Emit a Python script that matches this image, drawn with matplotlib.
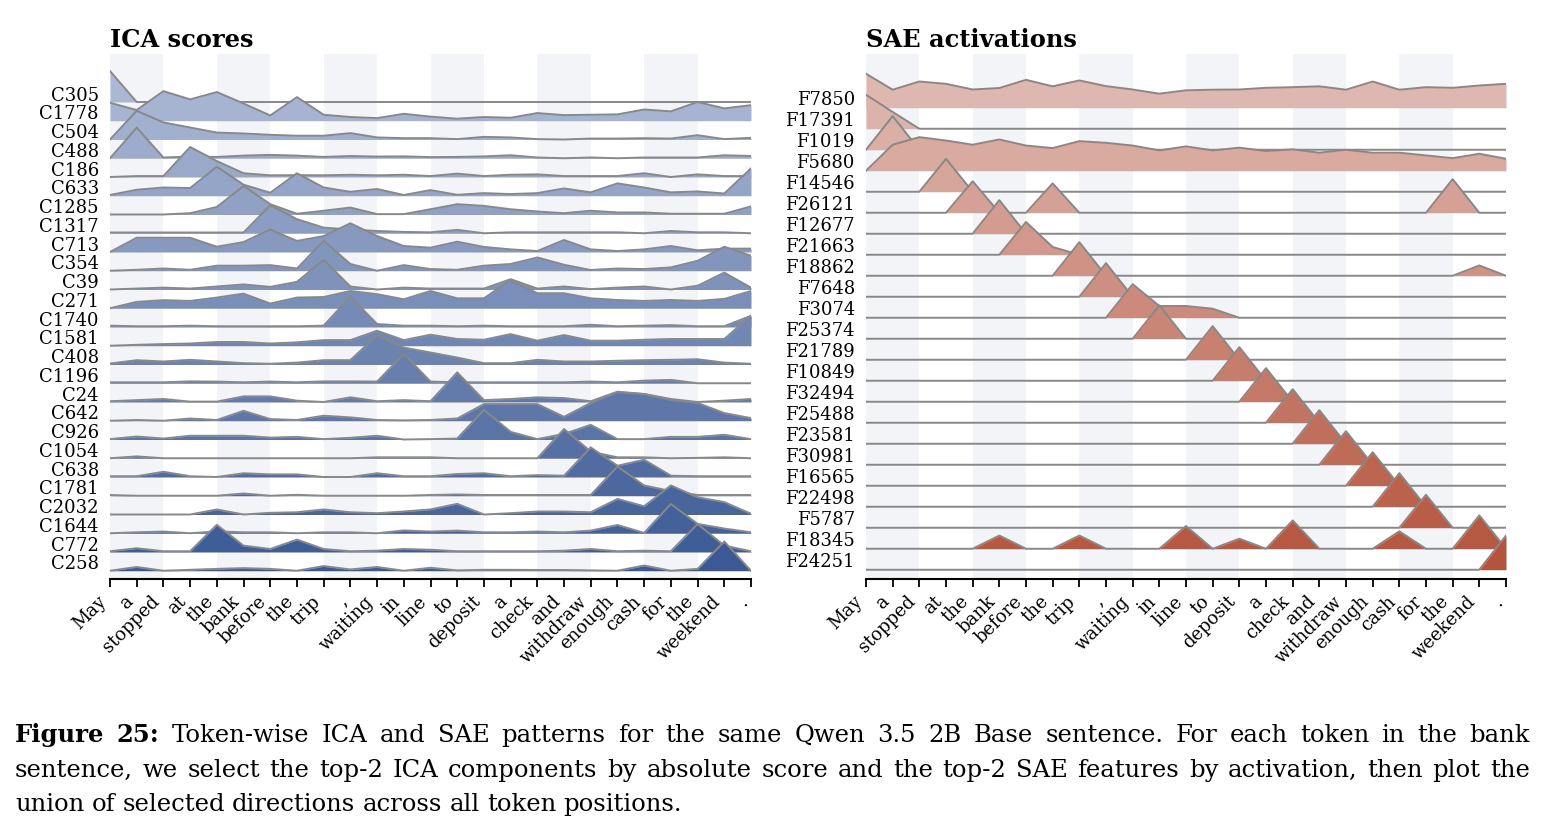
import matplotlib
matplotlib.use('Agg')
import matplotlib.pyplot as plt
import numpy as np

TOKENS = ['May', 'a', 'stopped', 'at', 'the', 'bank', 'before', 'the', 'trip', ',',
          'waiting', 'in', 'line', 'to', 'deposit', 'a', 'check', 'and', 'withdraw',
          'enough', 'cash', 'for', 'the', 'weekend', '.']

ICA_LABELS = ['C305', 'C1778', 'C504', 'C488', 'C186', 'C633', 'C1285', 'C1317', 'C713',
              'C354', 'C39', 'C271', 'C1740', 'C1581', 'C408', 'C1196', 'C24', 'C642',
              'C926', 'C1054', 'C638', 'C1781', 'C2032', 'C1644', 'C772', 'C258']

# heights in units of row spacing, one value per token
ICA_SCORES = [
    [1.65, 0, 0, 0, 0, 0, 0, 0, 0, 0, 0, 0, 0, 0, 0, 0, 0, 0, 0, 0, 0, 0, 0, 0, 0],
    [0.96, 0.57, 1.58, 1.14, 1.53, 0.92, 0.28, 1.26, 0.32, 0.2, 0.14, 0.37, 0.22, 0.11, 0.2, 0.16, 0.41, 0.3, 0.32, 0.34, 0.6, 0.5, 1.0, 0.66, 0.83],
    [0, 1.53, 0.91, 0.64, 0.37, 0.32, 0.25, 0.2, 0.2, 0.34, 0.11, 0.07, 0.07, 0.02, 0.14, 0.11, 0.02, 0, 0.05, 0.05, 0.07, 0.05, 0.23, 0.02, 0.09],
    [0, 1.63, 0.04, 0.09, 0.07, 0.14, 0.18, 0.14, 0.07, 0.12, 0.09, 0.1, 0.06, 0.07, 0.1, 0.16, 0.04, 0, 0.04, 0, 0.04, 0.04, 0.04, 0.16, 0.12],
    [0, 0.05, 0.05, 1.6, 0.85, 0.2, 0.09, 0.1, 0.09, 0.12, 0.09, 0.12, 0.05, 0.18, 0.05, 0.12, 0.14, 0.05, 0.05, 0.05, 0.2, 0, 0.14, 0.05, 0.05],
    [0.04, 0.32, 0.44, 0.41, 1.55, 0.59, 0.16, 1.2, 0.44, 0.21, 0.36, 0.04, 0.3, 0.05, 0.14, 0.09, 0.14, 0.39, 0.18, 0.66, 0.44, 0.18, 0.23, 0.12, 1.46],
    [0, 0, 0, 0.07, 0.4, 1.52, 0.55, 0.04, 0.2, 0.37, 0.02, 0.02, 0.28, 0.55, 0.46, 0.28, 0.16, 0.07, 0.2, 0.11, 0.11, 0.04, 0.04, 0.04, 0.43],
    [0.04, 0.04, 0.04, 0.04, 0.04, 0.04, 1.49, 0.75, 0.3, 0.2, 0.12, 0.07, 0.05, 0.18, 0, 0.05, 0.05, 0.05, 0.05, 0.05, 0, 0.12, 0.05, 0.05, 0],
    [0, 0.76, 0.76, 0.76, 0.28, 0.53, 1.2, 0.59, 0.85, 1.53, 0.85, 0.32, 0.23, 0.55, 0.27, 0.14, 0.05, 0.64, 0.14, 0.05, 0.14, 0.32, 0.09, 0.18, 0.18],
    [0, 0.05, 0.12, 0.05, 0.27, 0.27, 0.3, 0.12, 1.6, 0.36, 0, 0.3, 0.09, 0.05, 0.27, 0.36, 0.71, 0.32, 0.04, 0.12, 0.09, 0.18, 0.53, 1.28, 0.8],
    [0, 0.05, 0.1, 0.05, 0.16, 0.27, 0.14, 0.41, 1.58, 0.16, 0, 0.1, 0.05, 0.05, 0.05, 0.55, 0.05, 0.16, 0.02, 0.1, 0.16, 0, 0.2, 0.9, 0.1],
    [0, 0.34, 0.43, 0.39, 0.57, 0.78, 0.25, 0.57, 0.6, 0.92, 0.75, 0.48, 0.92, 0.53, 0.53, 1.5, 0.8, 0.8, 0.53, 0.44, 0.39, 0.44, 0.39, 0.5, 0.92],
    [0.07, 0.04, 0.04, 0.07, 0.04, 0.04, 0.04, 0.04, 0.07, 1.62, 0.16, 0.07, 0.07, 0.04, 0.07, 0.04, 0.04, 0.04, 0.12, 0.04, 0.07, 0.1, 0.04, 0.04, 0.6],
    [0, 0.05, 0.09, 0.12, 0.2, 0.2, 0.12, 0.18, 0.3, 0.3, 0.8, 0.3, 0.59, 0.36, 0.32, 0.62, 0.27, 0.57, 0.27, 0.27, 0.32, 0.36, 0.36, 0.36, 1.6],
    [0.05, 0.23, 0.16, 0.25, 0.16, 0.07, 0.04, 0.1, 0.23, 0.23, 1.56, 0.9, 0.64, 0.37, 0.07, 0.07, 0.25, 0.16, 0.16, 0.2, 0.23, 0.25, 0.28, 0.1, 0.04],
    [0.05, 0.05, 0.05, 0.1, 0.09, 0.05, 0.09, 0.05, 0.1, 0.1, 0.09, 1.56, 0.09, 0.05, 0.05, 0.05, 0.05, 0.05, 0.09, 0.05, 0.14, 0.18, 0, 0, 0],
    [0.04, 0.1, 0.16, 0.02, 0.02, 0.3, 0.3, 0.07, 0, 0.25, 0.04, 0.1, 0.04, 1.58, 0.1, 0.16, 0.25, 0.21, 0.04, 0.55, 0.43, 0.16, 0, 0.07, 0.16],
    [0, 0.04, 0, 0.12, 0.04, 0.53, 0.09, 0.04, 0.27, 0.18, 0.04, 0.02, 0.04, 0.12, 0.89, 0.89, 0.89, 0.21, 0.95, 1.52, 1.42, 1.1, 0.95, 0.41, 0.14],
    [0.02, 0.16, 0.05, 0.2, 0.2, 0.2, 0.1, 0.14, 0.02, 0.09, 0.2, 0, 0.02, 0.05, 1.58, 0.41, 0.02, 0.3, 0.78, 0.02, 0.02, 0.14, 0.14, 0.25, 0.02],
    [0, 0.1, 0, 0, 0, 0, 0, 0, 0, 0, 0.05, 0.05, 0.05, 0, 0, 0, 0, 1.56, 0.35, 0.05, 0.05, 0, 0.02, 0.05, 0],
    [0.04, 0.04, 0.28, 0.04, 0, 0.2, 0.14, 0.14, 0, 0, 0.2, 0.04, 0.04, 0.16, 0.2, 0.04, 0.1, 0.07, 1.58, 0.6, 0.92, 0.07, 0.04, 0.04, 0.04],
    [0.04, 0, 0, 0, 0, 0.12, 0, 0.05, 0, 0, 0, 0, 0.04, 0.07, 0.04, 0.04, 0.04, 0.04, 0.04, 1.56, 0.55, 0.25, 0.04, 0.04, 0.04],
    [0, 0, 0, 0, 0.27, 0, 0.09, 0.12, 0.27, 0.12, 0.07, 0.16, 0.27, 0.57, 0, 0.07, 0.16, 0.16, 0.12, 0.83, 0.44, 1.55, 0.92, 0.66, 0.04],
    [0, 0.05, 0.09, 0, 0.1, 0.05, 0.05, 0, 0.05, 0.05, 0, 0.15, 0.09, 0.14, 0.05, 0.05, 0.09, 0.05, 0.14, 0.44, 0.02, 1.56, 0.5, 0.25, 0.05],
    [0.04, 0.2, 0.04, 0.04, 1.45, 0.34, 0.16, 0.66, 0.16, 0.04, 0.07, 0.16, 0.12, 0.04, 0.04, 0.04, 0.04, 0.07, 0.16, 0.04, 0.07, 0.04, 1.49, 0.34, 0.04],
    [0, 0.2, 0, 0.05, 0.1, 0.14, 0.1, 0, 0.25, 0.07, 0.2, 0, 0.16, 0.02, 0.05, 0.05, 0.04, 0.04, 0.02, 0, 0.28, 0, 0.1, 1.56, 0],
]

SAE_LABELS = ['F7850', 'F17391', 'F1019', 'F5680', 'F14546', 'F26121', 'F12677', 'F21663',
              'F18862', 'F7648', 'F3074', 'F25374', 'F21789', 'F10849', 'F32494', 'F25488',
              'F23581', 'F30981', 'F16565', 'F22498', 'F5787', 'F18345', 'F24251']

SAE_ACTS = [
    [1.62, 0.86, 1.25, 1.14, 0.87, 0.94, 1.33, 1.02, 1.3, 1.03, 0.87, 0.67, 0.83, 0.86, 0.87, 0.95, 0.98, 1.02, 0.86, 1.25, 0.86, 0.98, 0.95, 1.06, 1.14],
    [1.62, 0.8, 0, 0, 0, 0, 0, 0, 0, 0, 0, 0, 0, 0, 0, 0, 0, 0, 0, 0, 0, 0, 0, 0, 0],
    [0, 1.6, 0, 0, 0, 0, 0, 0, 0, 0, 0, 0, 0, 0, 0, 0, 0, 0, 0, 0, 0, 0, 0, 0, 0],
    [0, 1.24, 1.6, 1.44, 1.24, 1.49, 1.2, 1.08, 1.41, 1.33, 1.2, 0.97, 1.16, 0.97, 1.1, 0.94, 1.02, 0.86, 1.0, 0.86, 0.86, 0.73, 0.6, 0.81, 0.57],
    [0, 0, 0, 1.57, 0, 0, 0, 0, 0, 0, 0, 0, 0, 0, 0, 0, 0, 0, 0, 0, 0, 0, 0, 0, 0],
    [0, 0, 0, 0, 1.5, 0, 0, 1.4, 0, 0, 0, 0, 0, 0, 0, 0, 0, 0, 0, 0, 0, 0, 1.6, 0, 0],
    [0, 0, 0, 0, 0, 1.6, 0, 0, 0, 0, 0, 0, 0, 0, 0, 0, 0, 0, 0, 0, 0, 0, 0, 0, 0],
    [0, 0, 0, 0, 0, 0, 1.56, 0.37, 0, 0, 0, 0, 0, 0, 0, 0, 0, 0, 0, 0, 0, 0, 0, 0, 0],
    [0, 0, 0, 0, 0, 0, 0, 0, 1.6, 0, 0, 0, 0, 0, 0, 0, 0, 0, 0, 0, 0, 0, 0, 0.49, 0],
    [0, 0, 0, 0, 0, 0, 0, 0, 0, 1.6, 0, 0, 0, 0, 0, 0, 0, 0, 0, 0, 0, 0, 0, 0, 0],
    [0, 0, 0, 0, 0, 0, 0, 0, 0, 0, 1.6, 0.56, 0.56, 0.43, 0, 0, 0, 0, 0, 0, 0, 0, 0, 0, 0],
    [0, 0, 0, 0, 0, 0, 0, 0, 0, 0, 0, 1.59, 0, 0, 0, 0, 0, 0, 0, 0, 0, 0, 0, 0, 0],
    [0, 0, 0, 0, 0, 0, 0, 0, 0, 0, 0, 0, 0, 1.6, 0, 0, 0, 0, 0, 0, 0, 0, 0, 0, 0],
    [0, 0, 0, 0, 0, 0, 0, 0, 0, 0, 0, 0, 0, 0, 1.6, 0, 0, 0, 0, 0, 0, 0, 0, 0, 0],
    [0, 0, 0, 0, 0, 0, 0, 0, 0, 0, 0, 0, 0, 0, 0, 1.6, 0, 0, 0, 0, 0, 0, 0, 0, 0],
    [0, 0, 0, 0, 0, 0, 0, 0, 0, 0, 0, 0, 0, 0, 0, 0, 1.6, 0, 0, 0, 0, 0, 0, 0, 0],
    [0, 0, 0, 0, 0, 0, 0, 0, 0, 0, 0, 0, 0, 0, 0, 0, 0, 1.6, 0, 0, 0, 0, 0, 0, 0],
    [0, 0, 0, 0, 0, 0, 0, 0, 0, 0, 0, 0, 0, 0, 0, 0, 0, 0, 1.6, 0, 0, 0, 0, 0, 0],
    [0, 0, 0, 0, 0, 0, 0, 0, 0, 0, 0, 0, 0, 0, 0, 0, 0, 0, 0, 1.6, 0, 0, 0, 0, 0],
    [0, 0, 0, 0, 0, 0, 0, 0, 0, 0, 0, 0, 0, 0, 0, 0, 0, 0, 0, 0, 1.6, 0, 0, 0, 0],
    [0, 0, 0, 0, 0, 0, 0, 0, 0, 0, 0, 0, 0, 0, 0, 0, 0, 0, 0, 0, 0, 1.57, 0, 0, 0],
    [0, 0, 0, 0, 0, 0.63, 0, 0, 0.63, 0, 0, 0, 1.08, 0, 0.48, 0, 1.35, 0, 0, 0, 0.83, 0, 0, 1.59, 0],
    [0, 0, 0, 0, 0, 0, 0, 0, 0, 0, 0, 0, 0, 0, 0, 0, 0, 0, 0, 0, 0, 0, 0, 0, 1.63],
]

CAPTION = [
    "Figure 25: Token-wise ICA and SAE patterns for the same Qwen 3.5 2B Base sentence. For each token in the bank",
    "sentence, we select the top-2 ICA components by absolute score and the top-2 SAE features by activation, then plot the",
    "union of selected directions across all token positions.",
]

plt.rcParams['font.family'] = ['DejaVu Serif']

W, H = 1545, 829
fig = plt.figure(figsize=(W / 100, H / 100), dpi=100)


def ridges(ax, title, labels, rows, c_top, c_bot):
    n = len(rows)
    x = np.arange(len(TOKENS))
    for j in range(0, len(TOKENS), 4):
        ax.axvspan(j, j + 2, color='#f3f4f7', lw=0, zorder=0)
    c_top = np.array(c_top)
    c_bot = np.array(c_bot)
    for k, vals in enumerate(rows):
        col = c_top + (c_bot - c_top) * k / (n - 1)
        y = -k + np.array(vals)
        # lower rows are drawn over the rows above them
        ax.fill_between(x, -k, y, color=col, lw=0, zorder=10 + 2 * k)
        ax.plot(x, y, color='#888888', lw=1.4, zorder=11 + 2 * k)
    ax.set_xlim(0, len(TOKENS) - 1)
    ax.set_ylim(-(n - 1) - 0.44, 2.56)
    ax.set_yticks(-np.arange(n) + 0.5)
    ax.set_yticklabels(labels)
    ax.set_xticks(x)
    ax.set_xticklabels(TOKENS, rotation=45, ha='right')
    for s in ['left', 'top', 'right']:
        ax.spines[s].set_visible(False)
    ax.spines['bottom'].set_linewidth(1.5)
    ax.tick_params(axis='y', length=0, pad=8, labelsize=13)
    ax.tick_params(axis='x', length=6, width=1.3, pad=3, labelsize=13)
    ax.set_title(title, loc='left', fontweight='bold', fontsize=17.4, pad=6)


ax1 = fig.add_axes([110 / W, 1 - 580 / H, 641 / W, 525 / H])
ridges(ax1, 'ICA scores', ICA_LABELS, ICA_SCORES, (0.67, 0.72, 0.83), (0.23, 0.35, 0.58))

ax2 = fig.add_axes([866 / W, 1 - 580 / H, 640 / W, 525 / H])
ridges(ax2, 'SAE activations', SAE_LABELS, SAE_ACTS, (0.87, 0.72, 0.69), (0.71, 0.33, 0.24))

# caption, justified like the paper text
renderer = fig.canvas.get_renderer()
fs = 17.5
left, right = 15, 1530
baselines = [742, 777, 811]
for li, (line, yb) in enumerate(zip(CAPTION, baselines)):
    words = line.split(' ')
    texts = []
    for wi, w in enumerate(words):
        bold = li == 0 and wi < 2
        texts.append(fig.text(0, 1 - yb / H, w, fontsize=fs, va='baseline',
                              fontweight='bold' if bold else 'normal'))
    widths = [t.get_window_extent(renderer).width for t in texts]
    if li < len(CAPTION) - 1:
        gap = (right - left - sum(widths)) / (len(words) - 1)
    else:
        gap = 0.3 * fs * 100 / 72
    xp = left
    for t, wd in zip(texts, widths):
        t.set_x(xp / W)
        xp += wd + gap

fig.savefig('out.png', dpi=100)
